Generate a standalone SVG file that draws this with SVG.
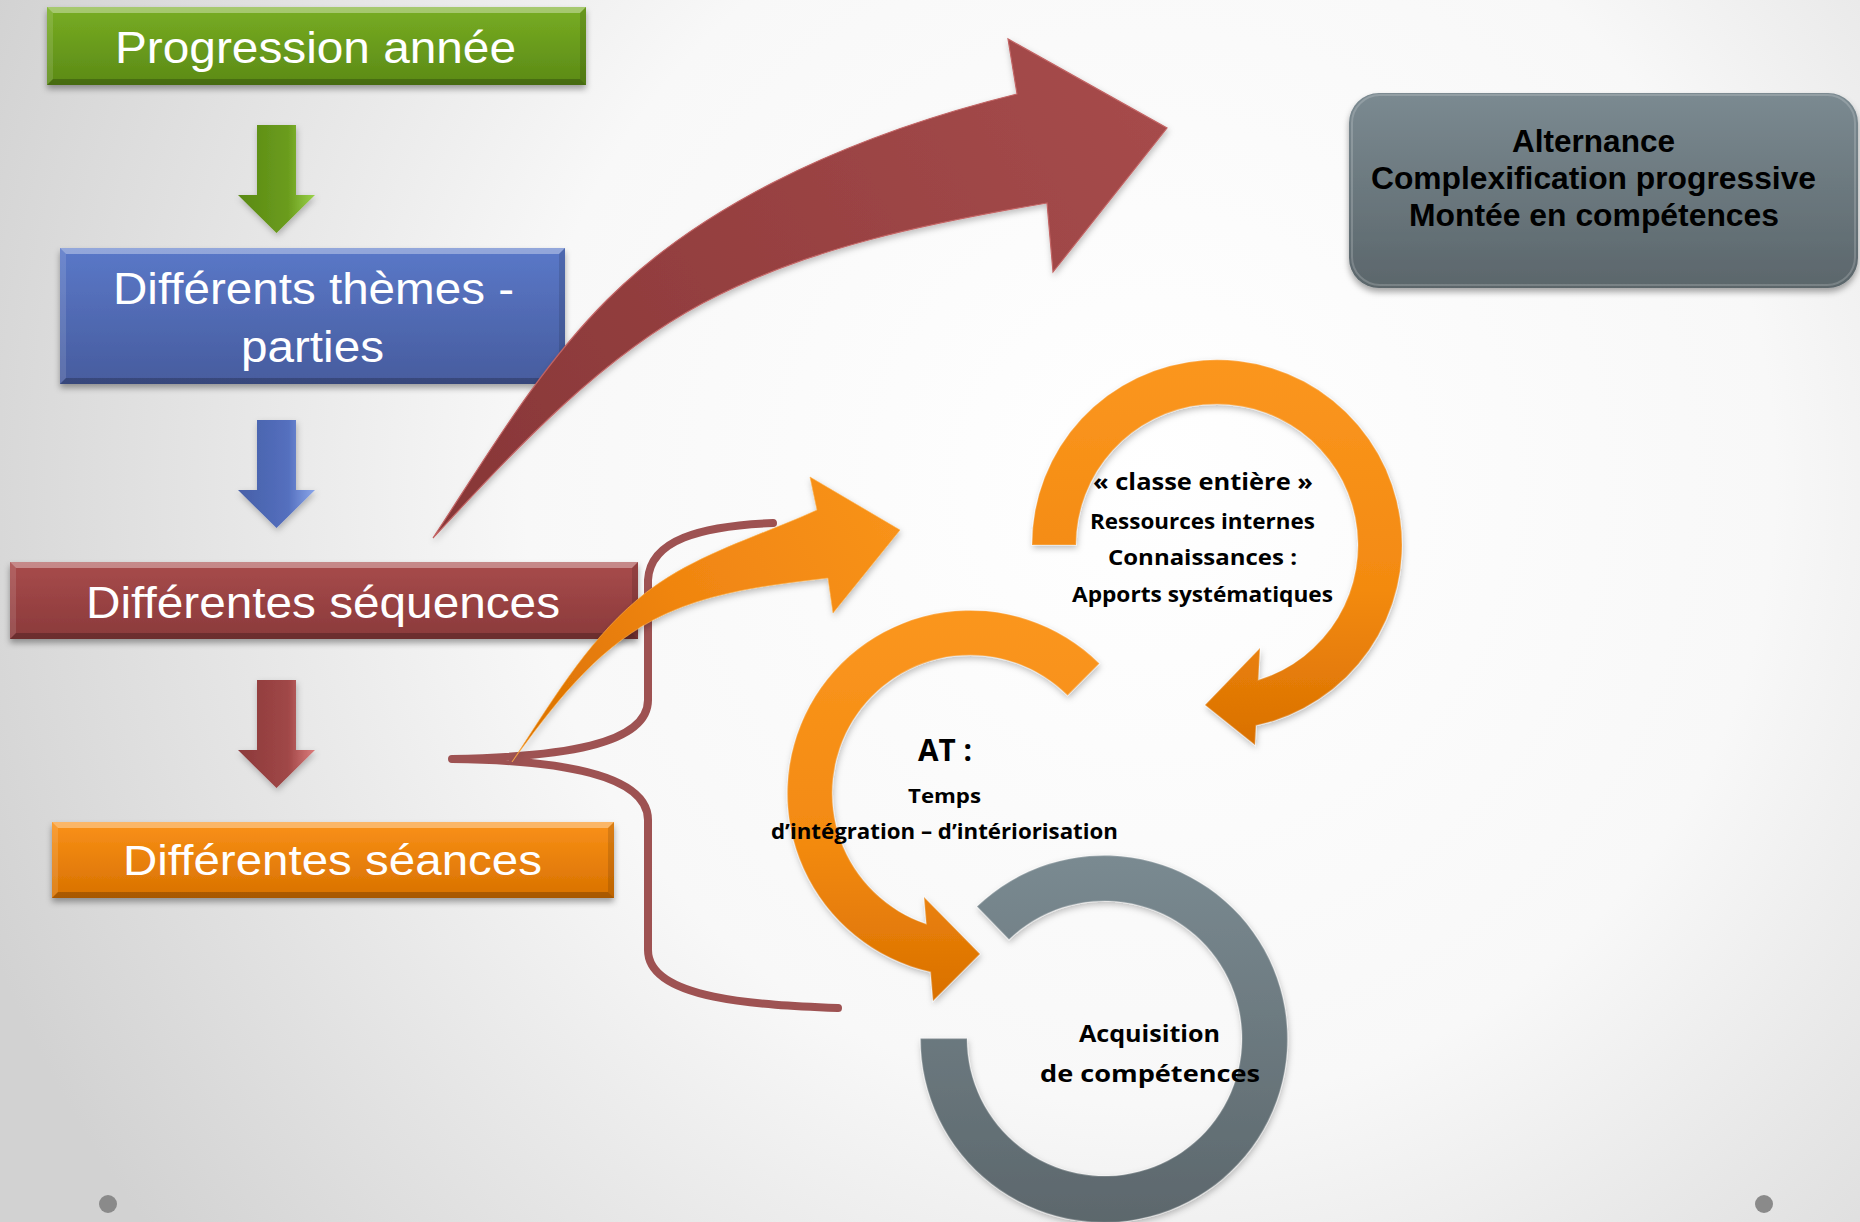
<svg xmlns="http://www.w3.org/2000/svg" width="1860" height="1222" viewBox="0 0 1860 1222">
<defs>
<radialGradient id="bg" cx="1150" cy="480" r="1250" gradientUnits="userSpaceOnUse">
<stop offset="0" stop-color="#ffffff"/>
<stop offset="0.5" stop-color="#f8f8f8"/>
<stop offset="1" stop-color="#d2d2d2"/>
</radialGradient>
<linearGradient id="gGreen" x1="0" y1="0" x2="0" y2="1"><stop offset="0" stop-color="#78ad23"/><stop offset="1" stop-color="#5b8a16"/></linearGradient>
<linearGradient id="gBlue" x1="0" y1="0" x2="0" y2="1"><stop offset="0" stop-color="#5a78c8"/><stop offset="1" stop-color="#475c9e"/></linearGradient>
<linearGradient id="gRed" x1="0" y1="0" x2="0" y2="1"><stop offset="0" stop-color="#a84b4b"/><stop offset="1" stop-color="#8a3a3b"/></linearGradient>
<linearGradient id="gOrange" x1="0" y1="0" x2="0" y2="1"><stop offset="0" stop-color="#fa9118"/><stop offset="1" stop-color="#d87100"/></linearGradient>
<linearGradient id="gGray" x1="0" y1="0" x2="0" y2="1"><stop offset="0" stop-color="#7b8a91"/><stop offset="1" stop-color="#5b666b"/></linearGradient>
<linearGradient id="aGreen" x1="0" y1="0" x2="1" y2="0"><stop offset="0" stop-color="#5a8a14"/><stop offset="0.65" stop-color="#6b9c1d"/><stop offset="1" stop-color="#9ad24a"/></linearGradient>
<linearGradient id="aBlue" x1="0" y1="0" x2="1" y2="0"><stop offset="0" stop-color="#4760a8"/><stop offset="0.65" stop-color="#546fbe"/><stop offset="1" stop-color="#8aa6ea"/></linearGradient>
<linearGradient id="aRed" x1="0" y1="0" x2="1" y2="0"><stop offset="0" stop-color="#8c3a3b"/><stop offset="0.65" stop-color="#a04747"/><stop offset="1" stop-color="#dc7c7c"/></linearGradient>
<linearGradient id="bigRed" x1="433" y1="538" x2="1167" y2="128" gradientUnits="userSpaceOnUse"><stop offset="0" stop-color="#873637"/><stop offset="1" stop-color="#a64b4b"/></linearGradient>
<linearGradient id="smallOr" x1="512" y1="762" x2="900" y2="530" gradientUnits="userSpaceOnUse"><stop offset="0" stop-color="#d87000"/><stop offset="0.5" stop-color="#f08510"/><stop offset="1" stop-color="#f8921a"/></linearGradient>
<linearGradient id="ringOr" x1="0" y1="0" x2="0" y2="1"><stop offset="0" stop-color="#fb961f"/><stop offset="0.6" stop-color="#f38a10"/><stop offset="1" stop-color="#d97000"/></linearGradient>
<linearGradient id="ringGray" x1="0" y1="0" x2="0" y2="1"><stop offset="0" stop-color="#7a8a91"/><stop offset="1" stop-color="#5c676c"/></linearGradient>
<filter id="sh" x="-10%" y="-20%" width="120%" height="150%"><feDropShadow dx="0" dy="4" stdDeviation="3" flood-color="#000" flood-opacity="0.35"/></filter>
<filter id="sh2" x="-10%" y="-10%" width="120%" height="130%"><feDropShadow dx="1" dy="3" stdDeviation="3" flood-color="#000" flood-opacity="0.25"/></filter>
<style>
.bxt{font-family:"Liberation Sans",Arial,sans-serif;fill:#ffffff;}
.bvt{fill:#ffffff;opacity:0.35;}
.bvl{fill:#ffffff;opacity:0.12;}
.bvr{fill:#000000;opacity:0.12;}
.bvb{fill:#000000;opacity:0.22;}
.rt{font-family:"Open Sans","DejaVu Sans",sans-serif;font-weight:700;fill:#000000;}
.gt{font-family:"Liberation Sans",Arial,sans-serif;font-weight:700;fill:#000000;font-size:31px;}
.edge{stroke:#ffffff;stroke-opacity:0.22;stroke-width:1.5;}
</style>
</defs>

<rect x="0" y="0" width="1860" height="1222" fill="url(#bg)"/>
<circle cx="108" cy="1204" r="9" fill="#8a8a8a"/>
<circle cx="1764" cy="1204" r="9" fill="#8a8a8a"/>

<g id="node-progression">
<g filter="url(#sh)"><rect x="47" y="7" width="539" height="78" fill="url(#gGreen)"/></g>
<polygon class="bvt" points="47,7 586,7 580,13 53,13"/>
<polygon class="bvl" points="47,7 53,13 53,79 47,85"/>
<polygon class="bvr" points="586,7 586,85 580,79 580,13"/>
<polygon class="bvb" points="47,85 53,79 580,79 586,85"/>
<text class="bxt" x="115" y="63" font-size="44" textLength="401" lengthAdjust="spacingAndGlyphs">Progression année</text>
</g>

<g id="node-themes">
<g filter="url(#sh)"><rect x="60" y="248" width="505" height="136" fill="url(#gBlue)"/></g>
<polygon class="bvt" points="60,248 565,248 559,254 66,254"/>
<polygon class="bvl" points="60,248 66,254 66,378 60,384"/>
<polygon class="bvr" points="565,248 565,384 559,378 559,254"/>
<polygon class="bvb" points="60,384 66,378 559,378 565,384"/>
<text class="bxt" x="113" y="304" font-size="44" textLength="401" lengthAdjust="spacingAndGlyphs">Différents thèmes -</text>
<text class="bxt" x="241" y="362" font-size="44" textLength="143" lengthAdjust="spacingAndGlyphs">parties</text>
</g>

<g id="node-sequences">
<g filter="url(#sh)"><rect x="10" y="562" width="628" height="77" fill="url(#gRed)"/></g>
<polygon class="bvt" points="10,562 638,562 632,568 16,568"/>
<polygon class="bvl" points="10,562 16,568 16,633 10,639"/>
<polygon class="bvr" points="638,562 638,639 632,633 632,568"/>
<polygon class="bvb" points="10,639 16,633 632,633 638,639"/>
<text class="bxt" x="86" y="618" font-size="45" textLength="474" lengthAdjust="spacingAndGlyphs">Différentes séquences</text>
</g>

<g id="node-seances">
<g filter="url(#sh)"><rect x="52" y="822" width="562" height="76" fill="url(#gOrange)"/></g>
<polygon class="bvt" points="52,822 614,822 608,828 58,828"/>
<polygon class="bvl" points="52,822 58,828 58,892 52,898"/>
<polygon class="bvr" points="614,822 614,898 608,892 608,828"/>
<polygon class="bvb" points="52,898 58,892 608,892 614,898"/>
<text class="bxt" x="123" y="875" font-size="43" textLength="419" lengthAdjust="spacingAndGlyphs">Différentes séances</text>
</g>

<g id="connectors">
<polygon filter="url(#sh2)" fill="url(#aGreen)" points="257,125 296,125 296,195 315,195 276.5,233 238,195 257,195"/>
<polygon filter="url(#sh2)" fill="url(#aBlue)" points="257,420 296,420 296,490 315,490 276.5,528 238,490 257,490"/>
<polygon filter="url(#sh2)" fill="url(#aRed)" points="257,680 296,680 296,750 315,750 276.5,788 238,750 257,750"/>
<path filter="url(#sh2)" fill="url(#bigRed)" stroke="#c26464" stroke-width="1.2" d="M 433,538 C 487,456 538,369 607,300 C 713,194 871,130 1017,94 L 1008,39 L 1167,128 L 1053,272 L 1047,203 C 930,223 808,247 703,303 C 598,359 514,451 433,538 Z"/>
<path fill="none" stroke="#9e5252" stroke-width="8" stroke-linejoin="round" stroke-linecap="round" d="M 773,523 C 700,526 650,540 648,580 L 648,700 C 648,745 560,757 452,759 C 560,760 648,775 648,820 L 648,950 C 648,1000 760,1005 838,1008"/>
<path filter="url(#sh2)" fill="url(#smallOr)" stroke="#ffb04a" stroke-opacity="0.6" stroke-width="1" d="M 512,762 C 549,706 585,644 637,600 C 688,556 756,538 817,510 L 810,477 L 900,530 L 833,613 L 828,578 C 768,585 706,592 653,620 C 594,651 551,708 512,762 Z"/>
</g>

<g id="node-classe">
<path class="edge" filter="url(#sh2)" fill="url(#ringOr)" d="M 1032,545 A 185 185 0 1 1 1256,725.6 L 1255,745 L 1205,705 L 1260,648 L 1258.3,680 A 141 141 0 1 0 1076,545 Z"/>
<text class="rt" x="1093" y="490" font-size="23" textLength="220" lengthAdjust="spacingAndGlyphs">« classe entière »</text>
<text class="rt" x="1090" y="529" font-size="21" textLength="225" lengthAdjust="spacingAndGlyphs">Ressources internes</text>
<text class="rt" x="1108" y="565" font-size="21" textLength="189" lengthAdjust="spacingAndGlyphs">Connaissances :</text>
<text class="rt" x="1072" y="602" font-size="21" textLength="261" lengthAdjust="spacingAndGlyphs">Apports systématiques</text>
</g>

<g id="node-at">
<path class="edge" filter="url(#sh2)" fill="url(#ringOr)" d="M 1099.4,663.6 A 183 183 0 1 0 930.5,972 L 933,1001 L 980,954 L 924,897 L 926.3,924 A 138 138 0 1 1 1067.6,695.4 Z"/>
<text class="rt" x="918" y="761" font-size="31" textLength="54" lengthAdjust="spacingAndGlyphs">AT :</text>
<text class="rt" x="908" y="803" font-size="20" textLength="73" lengthAdjust="spacingAndGlyphs">Temps</text>
<text class="rt" x="771" y="839" font-size="21" textLength="347" lengthAdjust="spacingAndGlyphs">d’intégration – d’intériorisation</text>
</g>

<g id="node-acquisition">
<path class="edge" filter="url(#sh2)" fill="url(#ringGray)" d="M 920.5,1038.5 A 183.5 183.5 0 1 0 977,906.5 L 1009,939.6 A 137.5 137.5 0 1 1 967,1038.5 Z"/>
<text class="rt" x="1079" y="1042" font-size="24" textLength="141" lengthAdjust="spacingAndGlyphs">Acquisition</text>
<text class="rt" x="1040" y="1082" font-size="24" textLength="220" lengthAdjust="spacingAndGlyphs">de compétences</text>
</g>

<g id="node-alternance">
<rect filter="url(#sh)" x="1349" y="93" width="509" height="195" rx="30" ry="30" fill="url(#gGray)"/>
<rect x="1352" y="95" width="503" height="190" rx="28" ry="28" fill="none" stroke="#ffffff" stroke-opacity="0.18" stroke-width="2"/>
<text class="gt" x="1512" y="152" textLength="163" lengthAdjust="spacingAndGlyphs">Alternance</text>
<text class="gt" x="1371" y="189" textLength="445" lengthAdjust="spacingAndGlyphs">Complexification progressive</text>
<text class="gt" x="1409" y="226" textLength="370" lengthAdjust="spacingAndGlyphs">Montée en compétences</text>
</g>
</svg>
